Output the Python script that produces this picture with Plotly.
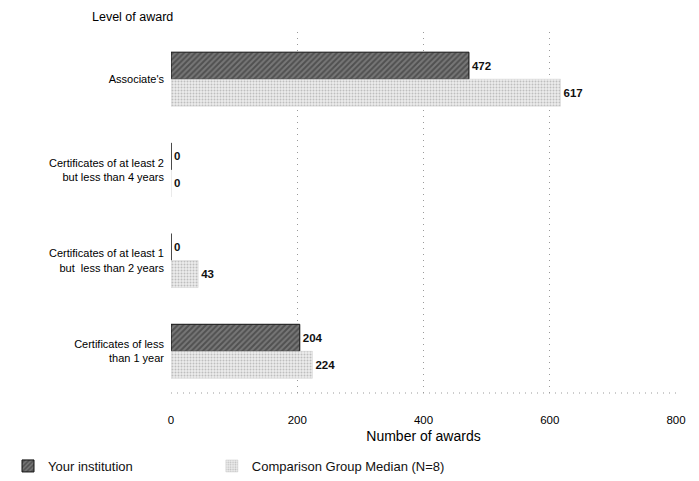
import plotly.graph_objects as go

categories = [
    "Associate's",
    "Certificates of at least 2<br>but less than 4 years",
    "Certificates of at least 1<br>but  less than 2 years",
    "Certificates of less<br>than 1 year",
]
your_institution = [472, 0, 0, 204]
comparison_median = [617, 0, 43, 224]
x_ticks = [0, 200, 400, 600, 800]

ypos = list(range(len(categories)))
FONT = "Arial, Liberation Sans, sans-serif"

fig = go.Figure()
fig.add_trace(go.Bar(
    name="Your institution", y=ypos, x=your_institution, orientation="h",
    legend="legend",
    marker=dict(color="#5e5e5e", line=dict(color="#111", width=1),
                pattern=dict(shape="/", fgcolor="#2a2a2a", bgcolor="#777777", size=4, solidity=0.5)),
    text=[f"<b>{v}</b>" for v in your_institution], textposition="outside",
    textfont=dict(family=FONT, size=11.5, color="#111"),
    cliponaxis=False,
))
fig.add_trace(go.Bar(
    name="Comparison Group Median (N=8)", y=ypos, x=comparison_median, orientation="h",
    legend="legend2",
    marker=dict(color="#e6e6e6", line=dict(color="#cfcfcf", width=0.5),
                pattern=dict(shape=".", fgcolor="#8f8f8f", bgcolor="#ececec", size=3, solidity=0.35)),
    text=[f"<b>{v}</b>" for v in comparison_median], textposition="outside",
    textfont=dict(family=FONT, size=11.5, color="#111"),
    cliponaxis=False,
))

legend_common = dict(orientation="h", xref="container", yref="container",
                     xanchor="left", yanchor="bottom", font=dict(size=13, family=FONT, color="#111"),
                     bgcolor="rgba(0,0,0,0)")

fig.update_layout(
    width=691, height=473,
    paper_bgcolor="white", plot_bgcolor="white",
    margin=dict(l=163, r=23, t=24, b=88),
    barmode="group", bargap=0.405, bargroupgap=0,
    font=dict(family=FONT, size=11, color="#111"),
    showlegend=True,
    legend=dict(x=0.0, y=-0.005, **legend_common),
    legend2=dict(x=0.295, y=-0.005, **legend_common),
    annotations=[dict(text="Level of award", xref="paper", yref="paper", x=-0.16, y=1.0,
                      yshift=15, xanchor="left", yanchor="middle", showarrow=False,
                      font=dict(size=12.5, color="#000"))],
)
fig.update_xaxes(range=[0, 800], tickvals=x_ticks, ticktext=[str(t) for t in x_ticks],
                 showgrid=True, gridcolor="#9a9a9a", griddash="1px,5px", gridwidth=1,
                 zeroline=False, showline=False, ticks="", ticklabelstandoff=18,
                 automargin=False,
                 title=dict(text="Number of awards", font=dict(size=14, color="#000"), standoff=6),
                 tickfont=dict(size=11.5, color="#000"))
fig.update_yaxes(range=[3.46, -0.52], tickvals=ypos, ticktext=categories, showgrid=False,
                 zeroline=False, showline=False, ticks="", ticklabelstandoff=6,
                 automargin=False,
                 tickfont=dict(size=11, color="#000"))
fig.add_shape(type="line", xref="paper", yref="paper", x0=0, x1=1, y0=0, y1=0,
              line=dict(color="#9a9a9a", width=1, dash="1px,5px"))

fig.write_html("out.html")
